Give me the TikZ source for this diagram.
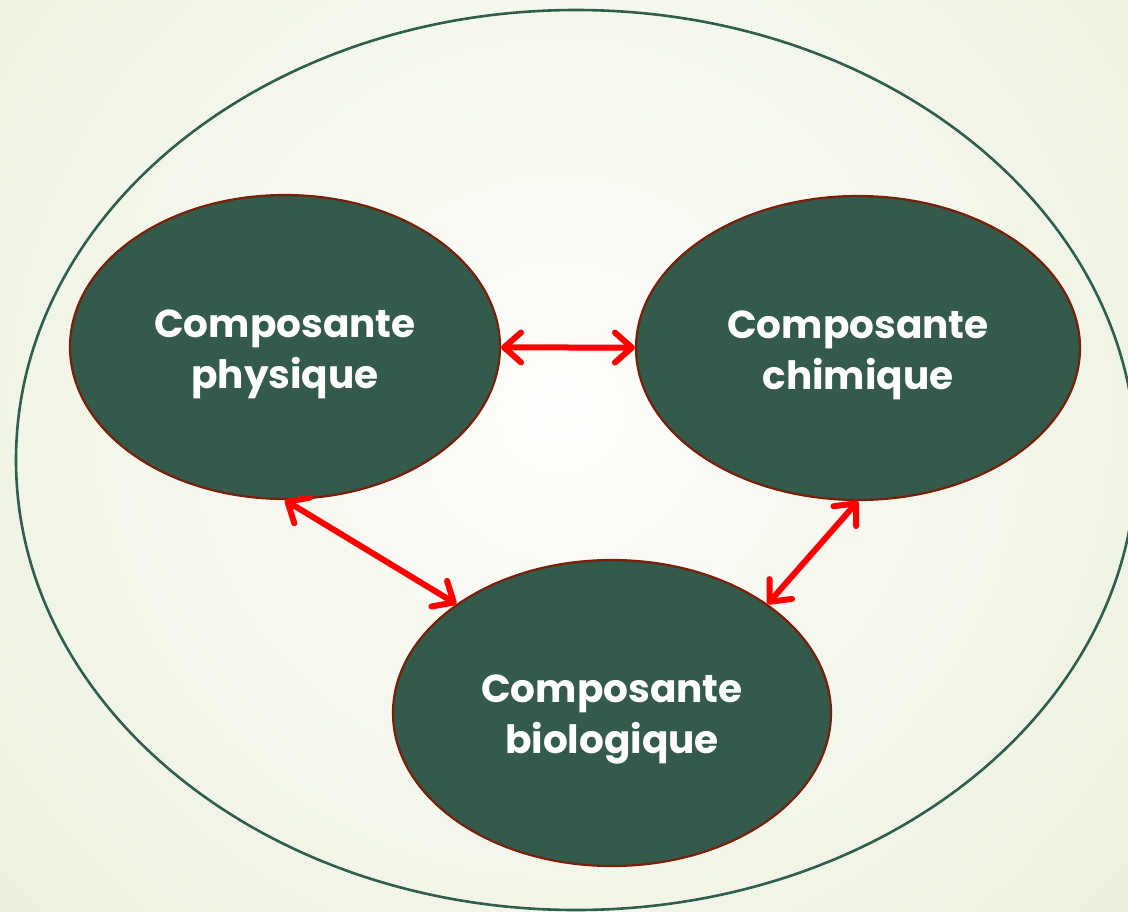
\documentclass[tikz,border=0pt]{standalone}
\usepackage{fontspec}
\setmainfont{Poppins}
\usetikzlibrary{shapes.geometric,arrows.meta}
\definecolor{bgout}{HTML}{E6EDD4}
\definecolor{bgin}{HTML}{FEFEFC}
\definecolor{ringgreen}{HTML}{2F5E4C}
\definecolor{blobfill}{HTML}{335A4A}
\definecolor{blobedge}{HTML}{7A1F0A}
\definecolor{arrred}{HTML}{FF0000}
\newcommand\blobtext[2]{\raisebox{-7pt}[\height][\depth]{\parbox{270pt}{\centering #1\\#2}}}
\tikzset{
  blob/.style={ellipse, fill=blobfill, draw=blobedge, line width=2.2pt, inner sep=0pt,
    text=white, font=\fontsize{39}{51}\selectfont\bfseries},
  link/.style={draw=arrred, line width=6pt, line cap=round,
    {Straight Barb[length=17pt,width=30pt,round]}-{Straight Barb[length=17pt,width=30pt,round]}}
}
\begin{document}
\begin{tikzpicture}[x=1pt,y=-1pt]
\useasboundingbox (0,0) rectangle (1128,911);
\begin{scope}
\clip (0,0) rectangle (1128,911);
\shade[inner color=bgin, outer color=bgout] (-420,-570) rectangle (1540,1390);
\draw[ringgreen, line width=2.6pt] (576,460) ellipse [x radius=560, y radius=450];
\end{scope}
\node[blob, minimum width=430pt, minimum height=304pt] (phys) at (285,347) {\blobtext{Composante}{physique}};
\node[blob, minimum width=444pt, minimum height=304pt] (chim) at (858,348) {\blobtext{Composante}{chimique}};
\node[blob, minimum width=438pt, minimum height=306pt] (bio) at (612,713) {\blobtext{Composante}{biologique}};
\draw[link] (phys) -- (chim);
\draw[link] (phys.south) -- (bio.145);
\draw[link] (chim.south) -- (bio.35);
\end{tikzpicture}
\end{document}
